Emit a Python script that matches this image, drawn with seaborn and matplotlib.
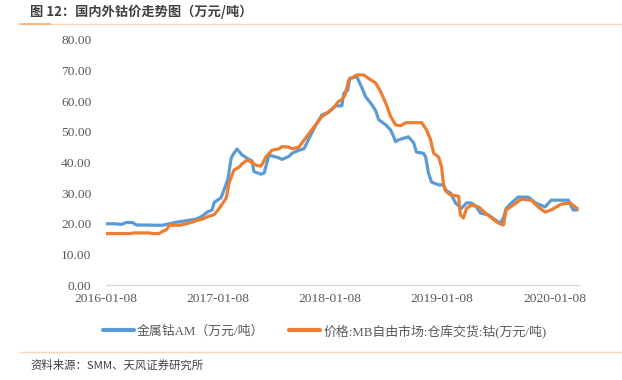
import pandas as pd
import matplotlib
matplotlib.use("Agg")
import matplotlib.pyplot as plt
import matplotlib.dates as mdates
from matplotlib.lines import Line2D
import seaborn as sns

# series 1: 金属钴AM (万元/吨)
am_dates = [
    "2016-01-08", "2016-02-06", "2016-02-29", "2016-03-16", "2016-04-05", "2016-04-18",
    "2016-07-11", "2016-08-03", "2016-08-25", "2016-09-27", "2016-10-29", "2016-11-18",
    "2016-12-04", "2016-12-20", "2016-12-27", "2017-01-18", "2017-02-04", "2017-02-10",
    "2017-02-20", "2017-03-01", "2017-03-11", "2017-03-27", "2017-04-19", "2017-04-29",
    "2017-05-05", "2017-05-28", "2017-06-07", "2017-06-23", "2017-07-26", "2017-08-04",
    "2017-08-27", "2017-09-06", "2017-09-28", "2017-10-15", "2017-11-16", "2017-12-12",
    "2018-01-04", "2018-01-27", "2018-02-15", "2018-02-22", "2018-03-06", "2018-03-13",
    "2018-04-05", "2018-04-21", "2018-05-04", "2018-05-20", "2018-06-05", "2018-06-15",
    "2018-07-08", "2018-07-24", "2018-08-03", "2018-08-09", "2018-08-19", "2018-09-20",
    "2018-10-07", "2018-10-16", "2018-11-08", "2018-11-15", "2018-11-24", "2018-12-04",
    "2018-12-27", "2019-01-12", "2019-01-18", "2019-02-04", "2019-02-20", "2019-03-11",
    "2019-03-28", "2019-04-13", "2019-04-29", "2019-05-12", "2019-06-07", "2019-06-30",
    "2019-07-16", "2019-07-26", "2019-08-04", "2019-08-21", "2019-09-12", "2019-10-15",
    "2019-11-07", "2019-12-09", "2019-12-28", "2020-02-22", "2020-03-09", "2020-03-22",
]
am_values = [
    20.0, 20.0, 19.8, 20.4, 20.4, 19.6,
    19.5, 20.0, 20.5, 21.0, 21.5, 22.5,
    23.8, 24.5, 27.0, 28.5, 33.0, 35.0,
    41.5, 43.0, 44.4, 42.5, 41.0, 40.5,
    37.0, 36.2, 36.5, 42.4, 41.5, 41.0,
    42.0, 43.0, 44.0, 44.5, 51.0, 55.5,
    56.5, 58.5, 58.5, 62.7, 63.5, 67.5,
    68.0, 64.5, 61.4, 59.4, 57.0, 54.0,
    52.3, 50.6, 48.4, 46.8, 47.4, 48.4,
    46.4, 43.4, 43.0, 41.8, 36.6, 33.6,
    32.7, 32.7, 31.0, 30.0, 26.8, 25.0,
    26.8, 26.8, 25.5, 23.5, 22.9, 21.2,
    20.2, 21.9, 25.0, 26.8, 28.7, 28.7,
    26.8, 25.5, 27.7, 27.7, 24.5, 24.5,
]

# series 2: MB 自由市场 仓库交货 钴 (万元/吨)
mb_dates = [
    "2016-01-08", "2016-03-26", "2016-04-11", "2016-05-30", "2016-06-08", "2016-07-01",
    "2016-07-11", "2016-07-24", "2016-08-03", "2016-09-04", "2016-09-27", "2016-10-16",
    "2016-10-29", "2016-11-18", "2016-12-10", "2016-12-27", "2017-01-12", "2017-02-04",
    "2017-02-13", "2017-03-01", "2017-03-18", "2017-03-27", "2017-04-13", "2017-04-29",
    "2017-05-15", "2017-05-28", "2017-06-04", "2017-06-13", "2017-07-03", "2017-07-26",
    "2017-08-04", "2017-08-27", "2017-09-06", "2017-09-28", "2017-12-12", "2017-12-28",
    "2018-01-20", "2018-02-05", "2018-02-15", "2018-02-25", "2018-03-10", "2018-04-05",
    "2018-04-27", "2018-05-20", "2018-06-05", "2018-06-22", "2018-07-08", "2018-07-24",
    "2018-08-09", "2018-08-25", "2018-09-11", "2018-11-02", "2018-11-18", "2018-12-01",
    "2018-12-11", "2018-12-27", "2019-01-06", "2019-01-12", "2019-01-22", "2019-02-04",
    "2019-03-02", "2019-03-08", "2019-03-18", "2019-03-28", "2019-04-13", "2019-05-06",
    "2019-05-29", "2019-06-17", "2019-07-10", "2019-07-26", "2019-08-04", "2019-08-27",
    "2019-09-22", "2019-10-25", "2019-11-16", "2019-12-09", "2019-12-28", "2020-01-30",
    "2020-02-28", "2020-03-15", "2020-03-22",
]
mb_values = [
    16.8, 16.8, 17.0, 17.0, 16.8, 16.8,
    17.5, 18.0, 19.5, 19.5, 20.0, 20.5,
    21.0, 21.5, 22.5, 23.0, 25.0, 28.4,
    33.3, 37.5, 38.5, 39.5, 40.8, 40.0,
    39.0, 38.8, 40.0, 41.8, 44.0, 44.5,
    45.2, 45.0, 44.5, 45.0, 55.0, 56.0,
    58.0, 60.0, 60.5, 62.0, 67.0, 68.6,
    68.6, 67.0, 66.0, 63.0, 59.4, 55.0,
    52.3, 52.0, 53.0, 53.0, 50.6, 47.4,
    43.0, 41.8, 38.5, 32.7, 30.4, 29.4,
    29.0, 22.9, 21.9, 25.0, 26.1, 25.5,
    23.5, 21.9, 20.2, 19.6, 24.5, 26.1,
    28.0, 27.7, 25.5, 23.8, 24.5, 26.4,
    26.8, 25.5, 25.0,
]

series_names = ["金属钴AM（万元/吨）", "价格:MB自由市场:仓库交货:钴(万元/吨)"]
series_colors = ["#5B9BD5", "#ED7D31"]
tick_dates = ["2016-01-08", "2017-01-08", "2018-01-08", "2019-01-08", "2020-01-08"]
y_ticks = [0, 10, 20, 30, 40, 50, 60, 70, 80]

df = pd.concat([
    pd.DataFrame({"date": pd.to_datetime(am_dates), "value": am_values, "series": series_names[0]}),
    pd.DataFrame({"date": pd.to_datetime(mb_dates), "value": mb_values, "series": series_names[1]}),
])

sns.set_style("white")
plt.rcParams["font.family"] = ["Liberation Serif", "Noto Sans CJK SC", "DejaVu Sans"]

fig = plt.figure(figsize=(6.22, 3.80), dpi=100)
ax = fig.add_axes([105.5 / 622, 1 - 285 / 380, 473.5 / 622, 245 / 380])

sns.lineplot(data=df, x="date", y="value", hue="series", hue_order=series_names,
             palette=series_colors, estimator=None, linewidth=2.3, legend=False, ax=ax)

ax.set_xlim(pd.Timestamp("2016-01-08"), pd.Timestamp("2020-03-28"))
ax.set_ylim(0, 80)
ax.set_xticks(pd.to_datetime(tick_dates))
ax.xaxis.set_major_formatter(mdates.DateFormatter("%Y-%m-%d"))
ax.set_yticks(y_ticks)
ax.set_yticklabels([f"{v:.2f}" for v in y_ticks])
ax.tick_params(axis="both", length=0, labelsize=9.7, colors="#595959")
ax.tick_params(axis="y", pad=10)
ax.tick_params(axis="x", pad=6)
ax.set_xlabel("")
ax.set_ylabel("")
for side in ["top", "right", "left"]:
    ax.spines[side].set_visible(False)
ax.spines["bottom"].set_color("#D9D9D9")
ax.spines["bottom"].set_linewidth(1.0)

# legend
handles = [Line2D([], [], color=c, linewidth=3) for c in series_colors]
fig.legend(handles, series_names, loc="center", bbox_to_anchor=(0.5217, 1 - 331 / 380),
           ncol=2, frameon=False, fontsize=9.3, handlelength=2.4, handletextpad=0.25,
           columnspacing=1.9, labelcolor="#595959")

# title and header rule
fig.text(30 / 622, 1 - 12 / 380, "图 12：国内外钴价走势图（万元/吨）", family="Noto Sans CJK SC",
         fontsize=9.5, fontweight="bold", color="#404040", va="center", ha="left")
fig.add_artist(Line2D([20 / 622, 1.0], [1 - 24 / 380] * 2, color="#FBD5B5", linewidth=1.0))
fig.add_artist(Line2D([20 / 622, 50 / 622], [1 - 24 / 380] * 2, color="#F7B27A", linewidth=1.3))

# footer rule and source
fig.add_artist(Line2D([20 / 622, 1.0], [1 - 352 / 380] * 2, color="#FBD5B5", linewidth=1.0))
fig.text(30 / 622, 1 - 365 / 380, "资料来源：SMM、天风证券研究所", family="Noto Sans CJK SC",
         fontsize=8.2, color="#404040", va="center", ha="left")

fig.savefig("out.png", dpi=100)
